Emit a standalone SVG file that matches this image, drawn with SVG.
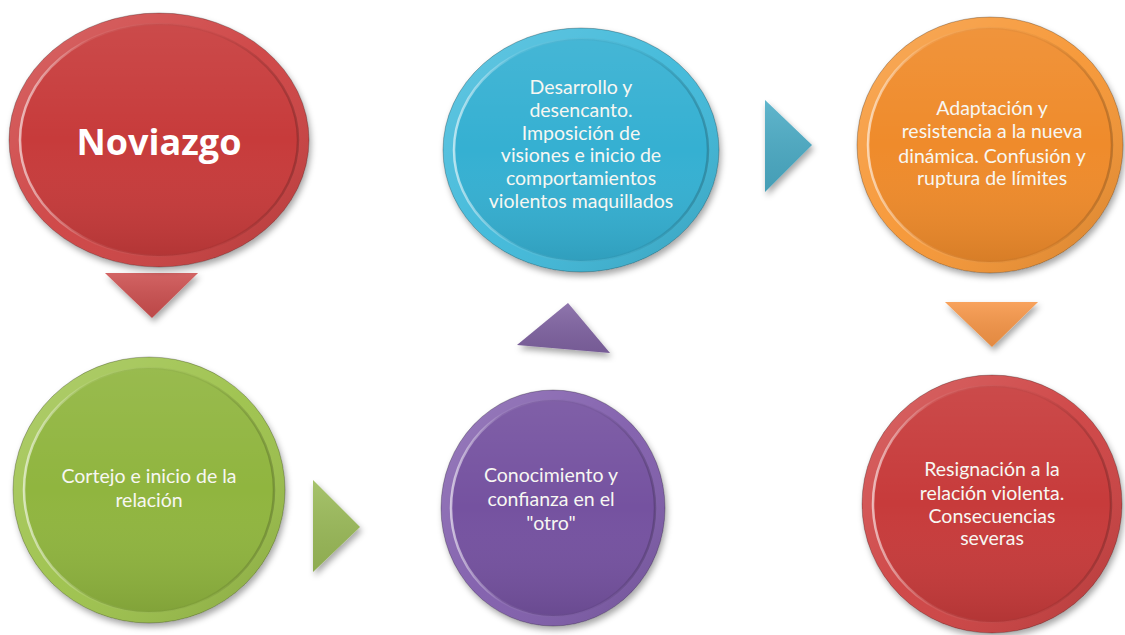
<svg xmlns="http://www.w3.org/2000/svg" width="1125" height="635" viewBox="0 0 1125 635">
<defs>
  <filter id="shadow" x="-20%" y="-20%" width="140%" height="140%">
    <feDropShadow dx="2" dy="4" stdDeviation="3" flood-color="#000" flood-opacity="0.35"/>
  </filter>
  <linearGradient id="rimShade" x1="0" y1="0" x2="1" y2="1">
    <stop offset="0" stop-color="#fff" stop-opacity="0.20"/>
    <stop offset="0.5" stop-color="#fff" stop-opacity="0.05"/>
    <stop offset="1" stop-color="#000" stop-opacity="0.15"/>
  </linearGradient>
  <linearGradient id="faceShade" x1="0" y1="0" x2="0" y2="1">
    <stop offset="0" stop-color="#fff" stop-opacity="0.08"/>
    <stop offset="0.5" stop-color="#fff" stop-opacity="0"/>
    <stop offset="1" stop-color="#000" stop-opacity="0.10"/>
  </linearGradient>
  <linearGradient id="hl" x1="0" y1="0" x2="1" y2="0">
    <stop offset="0" stop-color="#fff" stop-opacity="0.6"/>
    <stop offset="0.25" stop-color="#fff" stop-opacity="0.08"/>
    <stop offset="0.7" stop-color="#000" stop-opacity="0.04"/>
    <stop offset="1" stop-color="#000" stop-opacity="0.2"/>
  </linearGradient>
  <linearGradient id="triShade" x1="0" y1="0" x2="0" y2="1">
    <stop offset="0" stop-color="#fff" stop-opacity="0.12"/>
    <stop offset="1" stop-color="#000" stop-opacity="0.08"/>
  </linearGradient>
  <style>
    .rim { fill: url(#rimShade); }
    .face { fill: url(#faceShade); }
    .hl { fill: none; stroke: url(#hl); stroke-width: 2.5; }
    .edge { fill: none; stroke: #000; stroke-opacity: 0.25; stroke-width: 1; }
    .lbl { font-family: Lato, "Open Sans", "Liberation Sans", sans-serif; font-size: 19.5px; fill: #f7f7f2; text-anchor: middle; }
    .title { font-family: "Open Sans", Lato, "Liberation Sans", sans-serif; font-size: 36px; font-weight: bold; fill: #ffffff; text-anchor: middle; }
    .tri { filter: url(#shadow); }
    .triov { fill: url(#triShade); }
  </style>
</defs>
<rect width="1125" height="635" fill="#ffffff"/>

<g id="connectors">
  <g class="tri"><polygon points="105,273 198,273 152,318" fill="#cd5050"/></g>
  <polygon class="triov" points="105,273 198,273 152,318"/>
  <g class="tri"><polygon points="313,480 313,572 360,527" fill="#9bbb59"/></g>
  <polygon class="triov" points="313,480 313,572 360,527"/>
  <g class="tri"><polygon points="517,345 610,353 568,303" fill="#8064a2"/></g>
  <polygon class="triov" points="517,345 610,353 568,303"/>
  <g class="tri"><polygon points="765,100 765,192 812,145" fill="#4bacc6"/></g>
  <polygon class="triov" points="765,100 765,192 812,145"/>
  <g class="tri"><polygon points="945,302 1038,302 992,347" fill="#f79646"/></g>
  <polygon class="triov" points="945,302 1038,302 992,347"/>
</g>

<g id="node-noviazgo" transform="translate(159,140)">
  <ellipse rx="150" ry="127" fill="#cd4141" filter="url(#shadow)"/>
  <ellipse class="rim" rx="150" ry="127"/>
  <ellipse class="edge" rx="150" ry="127"/>
  <ellipse rx="139" ry="116" fill="#c73b3b"/>
  <ellipse class="face" rx="139" ry="116"/>
  <ellipse class="hl" rx="139" ry="116"/>
  <text class="title" x="0" y="15">Noviazgo</text>
</g>

<g id="node-cortejo" transform="translate(149,490)">
  <ellipse rx="136" ry="133" fill="#9cc14a" filter="url(#shadow)"/>
  <ellipse class="rim" rx="136" ry="133"/>
  <ellipse class="edge" rx="136" ry="133"/>
  <ellipse rx="125" ry="122" fill="#90b53f"/>
  <ellipse class="face" rx="125" ry="122"/>
  <ellipse class="hl" rx="125" ry="122"/>
  <text class="lbl" x="0" y="-7">Cortejo e inicio de la</text>
  <text class="lbl" x="0" y="17">relación</text>
</g>

<g id="node-conocimiento" transform="translate(553,508)">
  <ellipse rx="112" ry="118" fill="#7f5cab" filter="url(#shadow)"/>
  <ellipse class="rim" rx="112" ry="118"/>
  <ellipse class="edge" rx="112" ry="118"/>
  <ellipse rx="102" ry="108" fill="#7552a0"/>
  <ellipse class="face" rx="102" ry="108"/>
  <ellipse class="hl" rx="102" ry="108"/>
  <text class="lbl" x="-2" y="-26">Conocimiento y</text>
  <text class="lbl" x="-2" y="-2">confianza en el</text>
  <text class="lbl" x="-2" y="22">"otro"</text>
</g>

<g id="node-desarrollo" transform="translate(581,150)">
  <ellipse rx="138" ry="122" fill="#3db8d9" filter="url(#shadow)"/>
  <ellipse class="rim" rx="138" ry="122"/>
  <ellipse class="edge" rx="138" ry="122"/>
  <ellipse rx="127" ry="111" fill="#35b0d2"/>
  <ellipse class="face" rx="127" ry="111"/>
  <ellipse class="hl" rx="127" ry="111"/>
  <text class="lbl" x="0" y="-56">Desarrollo y</text>
  <text class="lbl" x="0" y="-33">desencanto.</text>
  <text class="lbl" x="0" y="-10">Imposición de</text>
  <text class="lbl" x="0" y="12">visiones e inicio de</text>
  <text class="lbl" x="0" y="35">comportamientos</text>
  <text class="lbl" x="0" y="58">violentos maquillados</text>
</g>

<g id="node-adaptacion" transform="translate(990,145)">
  <ellipse rx="133" ry="128" fill="#f69533" filter="url(#shadow)"/>
  <ellipse class="rim" rx="133" ry="128"/>
  <ellipse class="edge" rx="133" ry="128"/>
  <ellipse rx="122" ry="117" fill="#ef8b2b"/>
  <ellipse class="face" rx="122" ry="117"/>
  <ellipse class="hl" rx="122" ry="117"/>
  <text class="lbl" x="2" y="-30">Adaptación y</text>
  <text class="lbl" x="2" y="-7">resistencia a la nueva</text>
  <text class="lbl" x="2" y="18">dinámica. Confusión y</text>
  <text class="lbl" x="2" y="40">ruptura de límites</text>
</g>

<g id="node-resignacion" transform="translate(992,504)">
  <ellipse rx="130" ry="129" fill="#cd4141" filter="url(#shadow)"/>
  <ellipse class="rim" rx="130" ry="129"/>
  <ellipse class="edge" rx="130" ry="129"/>
  <ellipse rx="119" ry="118" fill="#c73b3b"/>
  <ellipse class="face" rx="119" ry="118"/>
  <ellipse class="hl" rx="119" ry="118"/>
  <text class="lbl" x="0" y="-28">Resignación a la</text>
  <text class="lbl" x="0" y="-4">relación violenta.</text>
  <text class="lbl" x="0" y="19">Consecuencias</text>
  <text class="lbl" x="0" y="41">severas</text>
</g>
</svg>
